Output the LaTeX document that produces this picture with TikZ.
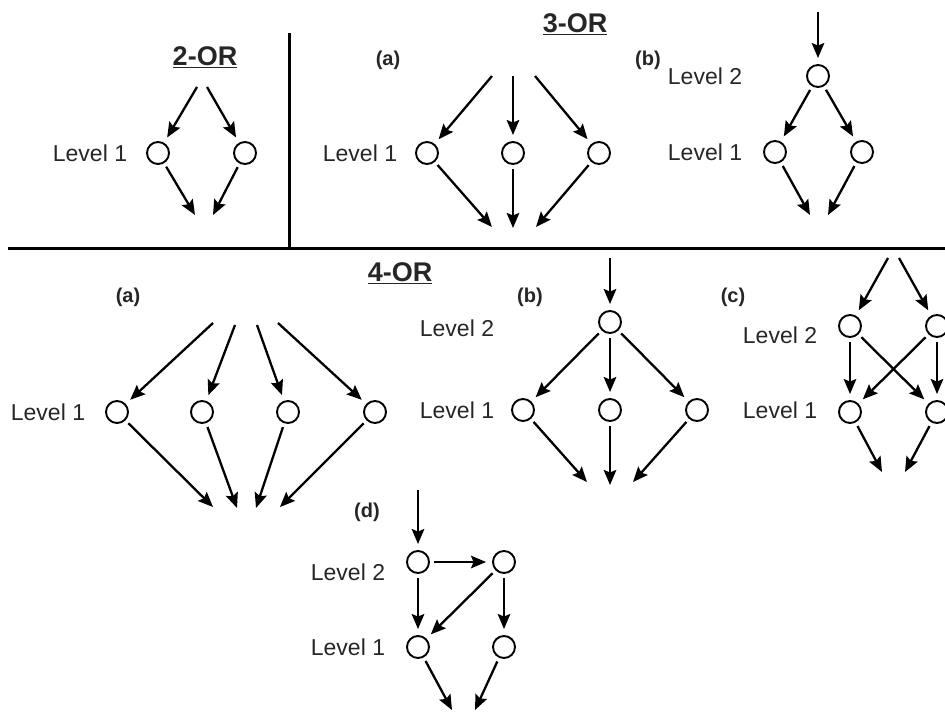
\documentclass[tikz,border=0pt]{standalone}
\usepackage{fontspec}
\setmainfont{Liberation Sans}
\usetikzlibrary{arrows.meta}
\begin{document}
\begin{tikzpicture}[x=1pt,y=-1pt,
  circ/.style={circle,draw,line width=1.9pt,minimum size=22pt,inner sep=0pt},
  tipstyle/.style={-{Stealth[length=15pt,width=12.5pt,inset=2.5pt]}},
  arr/.style={line width=2.3pt,tipstyle,shorten >=6pt,shorten <=4pt},
  arrin/.style={line width=2.3pt,tipstyle,shorten >=6pt},
  arrout/.style={line width=2.3pt,tipstyle,shorten <=4pt},
  lvl/.style={font=\fontsize{23}{25}\selectfont,text=black!85,inner sep=0pt},
  sub/.style={font=\fontsize{20}{22}\selectfont\bfseries,text=black!85,inner sep=0pt},
  ttl/.style={font=\fontsize{27}{29}\selectfont\bfseries,text=black!85,inner sep=0pt},
  sep/.style={line width=3pt}]
\useasboundingbox (0,0) rectangle (945,712);

% separators
\coordinate (h0) at (8,248); \coordinate (h1) at (945,248);
\coordinate (v0) at (289,33); \coordinate (v1) at (289,248);
\draw[sep] (h0) -- (h1);
\draw[sep] (v0) -- (v1);

% ---------- 2-OR ----------
\node[ttl] (t2) at (205,57) {\underline{2-OR}};
\node[lvl] (a1lab) at (90,153) {Level 1};
\node[circ] (a1) at (158,153) {};
\node[circ] (a2) at (245,153) {};
\coordinate (a0l) at (197,87); \coordinate (a0r) at (207,87);
\coordinate (aol) at (195,215); \coordinate (aor) at (213,215);
\draw[arrin] (a0l) -- (a1);
\draw[arrin] (a0r) -- (a2);
\draw[arrout] (a1) -- (aol);
\draw[arrout] (a2) -- (aor);

% ---------- 3-OR ----------
\node[ttl] (t3) at (575,24) {\underline{3-OR}};
% (a)
\node[sub] (s3a) at (388,60) {(a)};
\node[lvl] (b1lab) at (360,153) {Level 1};
\node[circ] (b1) at (427,153) {};
\node[circ] (b2) at (513,153) {};
\node[circ] (b3) at (599,153) {};
\coordinate (b0a) at (492,76); \coordinate (b0b) at (513,76); \coordinate (b0c) at (535,76);
\coordinate (boa) at (492,227); \coordinate (bob) at (513,228); \coordinate (boc) at (536,227);
\draw[arrin] (b0a) -- (b1);
\draw[arrin] (b0b) -- (b2);
\draw[arrin] (b0c) -- (b3);
\draw[arrout] (b1) -- (boa);
\draw[arrout] (b2) -- (bob);
\draw[arrout] (b3) -- (boc);
% (b)
\node[sub] (s3b) at (648,60) {(b)};
\node[lvl] (c2lab) at (705,76) {Level 2};
\node[lvl] (c1lab) at (705,152) {Level 1};
\node[circ] (c2) at (818,76) {};
\node[circ] (c1a) at (775,152) {};
\node[circ] (c1b) at (862,152) {};
\coordinate (c0) at (818,12);
\coordinate (coa) at (810,215); \coordinate (cob) at (828,215);
\draw[arrin] (c0) -- (c2);
\draw[arr] (c2) -- (c1a);
\draw[arr] (c2) -- (c1b);
\draw[arrout] (c1a) -- (coa);
\draw[arrout] (c1b) -- (cob);

% ---------- 4-OR ----------
\node[ttl] (t4) at (400,273) {\underline{4-OR}};
% (a)
\node[sub] (s4a) at (128,297) {(a)};
\node[lvl] (d1lab) at (48,412) {Level 1};
\node[circ] (d1) at (117,412) {};
\node[circ] (d2) at (202,412) {};
\node[circ] (d3) at (288,412) {};
\node[circ] (d4) at (375,412) {};
\coordinate (d0a) at (213,323); \coordinate (d0b) at (235,325);
\coordinate (d0c) at (257,325); \coordinate (d0d) at (278,323);
\coordinate (doa) at (213,507); \coordinate (dob) at (237,508);
\coordinate (doc) at (256,508); \coordinate (dod) at (280,507);
\draw[arrin] (d0a) -- (d1);
\draw[arrin] (d0b) -- (d2);
\draw[arrin] (d0c) -- (d3);
\draw[arrin] (d0d) -- (d4);
\draw[arrout] (d1) -- (doa);
\draw[arrout] (d2) -- (dob);
\draw[arrout] (d3) -- (doc);
\draw[arrout] (d4) -- (dod);
% (b)
\node[sub] (s4b) at (530,297) {(b)};
\node[lvl] (e2lab) at (457,328) {Level 2};
\node[lvl] (e1lab) at (457,410) {Level 1};
\node[circ] (e2) at (610,322) {};
\node[circ] (e1a) at (523,410) {};
\node[circ] (e1b) at (610,410) {};
\node[circ] (e1c) at (697,410) {};
\coordinate (e0) at (610,258);
\coordinate (eoa) at (587,482); \coordinate (eob) at (610,485); \coordinate (eoc) at (633,482);
\draw[arrin] (e0) -- (e2);
\draw[arr] (e2) -- (e1a);
\draw[arr] (e2) -- (e1b);
\draw[arr] (e2) -- (e1c);
\draw[arrout] (e1a) -- (eoa);
\draw[arrout] (e1b) -- (eob);
\draw[arrout] (e1c) -- (eoc);
% (c)
\node[sub] (s4c) at (733,297) {(c)};
\node[lvl] (f2lab) at (780,335) {Level 2};
\node[lvl] (f1lab) at (780,410) {Level 1};
\node[circ] (f2a) at (850,326) {};
\node[circ] (f2b) at (937,326) {};
\node[circ] (f1a) at (850,412) {};
\node[circ] (f1b) at (937,412) {};
\coordinate (f0a) at (888,258); \coordinate (f0b) at (899,258);
\coordinate (foa) at (882,472); \coordinate (fob) at (905,472);
\draw[arrin] (f0a) -- (f2a);
\draw[arrin] (f0b) -- (f2b);
\draw[arr] (f2a) -- (f1a);
\draw[arr] (f2a) -- (f1b);
\draw[arr] (f2b) -- (f1a);
\draw[arr] (f2b) -- (f1b);
\draw[arrout] (f1a) -- (foa);
\draw[arrout] (f1b) -- (fob);
% (d)
\node[sub] (s4d) at (367,512) {(d)};
\node[lvl] (g2lab) at (348,572) {Level 2};
\node[lvl] (g1lab) at (348,647) {Level 1};
\node[circ] (g2a) at (418,562) {};
\node[circ] (g2b) at (504,562) {};
\node[circ] (g1a) at (418,647) {};
\node[circ] (g1b) at (504,647) {};
\coordinate (g0) at (418,490);
\coordinate (goa) at (452,710); \coordinate (gob) at (475,710);
\draw[arrin] (g0) -- (g2a);
\draw[arr] (g2a) -- (g2b);
\draw[arr] (g2a) -- (g1a);
\draw[arr] (g2b) -- (g1a);
\draw[arr] (g2b) -- (g1b);
\draw[arrout] (g1a) -- (goa);
\draw[arrout] (g1b) -- (gob);
\end{tikzpicture}
\end{document}
